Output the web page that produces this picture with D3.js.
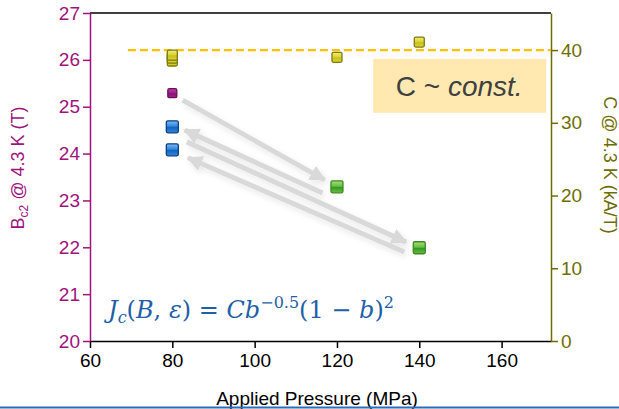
<!DOCTYPE html>
<html>
<head>
<meta charset="utf-8">
<script src="https://cdn.jsdelivr.net/npm/d3@7"></script>
<style>
  body { margin: 0; background: white; }
  svg { display: block; font-family: "Liberation Sans", Arial, sans-serif; }
</style>
</head>
<body>
<div id="chart"></div>
<script>
// data
const xTicks = [60, 80, 100, 120, 140, 160];
const leftTicks = [20, 21, 22, 23, 24, 25, 26, 27];
const rightTicks = [0, 10, 20, 30, 40];

// Bc2 (left axis)
const bc2Magenta = [{ p: 80, v: 25.29 }];
const bc2Blue = [{ p: 80, v: 24.57 }, { p: 80, v: 24.08 }];
const bc2Green = [{ p: 120, v: 23.29 }, { p: 140, v: 21.99 }];
// C (right axis)
const cYellow = [
  { p: 80, v: 38.5 }, { p: 80, v: 38.9 }, { p: 80, v: 39.3 },
  { p: 120, v: 39.0 }, { p: 140, v: 41.1 }
];
const cConst = 40;
// arrows, in data units (pressure, Bc2)
const arrows = [
  [[82.5, 25.14], [117.0, 23.44]],
  [[83.5, 24.25], [136.8, 22.11]],
  [[116.5, 23.16], [83.0, 24.50]],
  [[136.4, 21.90], [83.8, 23.91]]
];

const magenta = "#a0137e";
const olive = "#6e6e00";
const width = 619, height = 409;
const margin = { top: 13, right: 68, bottom: 68, left: 90 };

const svg = d3.select("#chart").append("svg")
  .attr("width", width).attr("height", height);

const defs = svg.append("defs");
function gloss(id, light, mid, dark) {
  const g = defs.append("linearGradient").attr("id", id)
    .attr("x1", 0).attr("y1", 0).attr("x2", 0).attr("y2", 1);
  g.append("stop").attr("offset", "0%").attr("stop-color", light);
  g.append("stop").attr("offset", "45%").attr("stop-color", mid);
  g.append("stop").attr("offset", "55%").attr("stop-color", dark);
  g.append("stop").attr("offset", "100%").attr("stop-color", mid);
}
gloss("gBlue", "#7fbdf5", "#2f86dc", "#1565c0");
gloss("gGreen", "#a8dc80", "#6cbf3c", "#2f9a2a");
gloss("gYellow", "#f0ec80", "#dcd530", "#c8c020");
gloss("gMag", "#c040a8", "#a0208a", "#8a1478");

const shadow = defs.append("filter").attr("id", "soft")
  .attr("filterUnits", "userSpaceOnUse")
  .attr("x", 0).attr("y", 0).attr("width", width).attr("height", height);
shadow.append("feGaussianBlur").attr("in", "SourceAlpha").attr("stdDeviation", 3).attr("result", "b");
shadow.append("feOffset").attr("in", "b").attr("dx", 2).attr("dy", 3).attr("result", "o");
shadow.append("feComponentTransfer").attr("in", "o").attr("result", "s")
  .append("feFuncA").attr("type", "linear").attr("slope", 0.1);
const fm = shadow.append("feMerge");
fm.append("feMergeNode").attr("in", "s");
fm.append("feMergeNode").attr("in", "SourceGraphic");

defs.append("marker").attr("id", "head")
  .attr("viewBox", "0 0 10 10").attr("refX", 9).attr("refY", 5)
  .attr("markerWidth", 3.2).attr("markerHeight", 3.2).attr("orient", "auto")
  .append("path").attr("d", "M0,0L10,5L0,10Z").attr("fill", "#d9d9d9");

const x = d3.scaleLinear().domain([60, 172]).range([margin.left, width - margin.right]);
const yL = d3.scaleLinear().domain([20, 27]).range([height - margin.bottom, margin.top]);
const yR = d3.scaleLinear().domain([0, 45.1]).range([height - margin.bottom, margin.top]);

// frame top
svg.append("line").attr("x1", x(60)).attr("x2", x(172)).attr("y1", yL(27)).attr("y2", yL(27))
  .attr("stroke", "black").attr("stroke-width", 1.5);

function styleAxis(g, color) {
  g.attr("font-family", "Liberation Sans").attr("font-size", 19);
  g.select(".domain").attr("stroke", color).attr("stroke-width", 1.5);
  g.selectAll(".tick line").attr("stroke", color).attr("stroke-width", 1.5);
  g.selectAll(".tick text").attr("fill", color);
}

// x axis
const gx = svg.append("g").attr("transform", `translate(0,${height - margin.bottom})`)
  .call(d3.axisBottom(x).tickValues(xTicks).tickSize(7).tickSizeOuter(0).tickPadding(6));
styleAxis(gx, "black");

// left axis
const gl = svg.append("g").attr("transform", `translate(${margin.left},0)`)
  .call(d3.axisLeft(yL).tickValues(leftTicks).tickFormat(d3.format("d"))
    .tickSize(7).tickSizeOuter(0).tickPadding(3));
styleAxis(gl, magenta);

// right axis
const gr = svg.append("g").attr("transform", `translate(${width - margin.right},0)`)
  .call(d3.axisRight(yR).tickValues(rightTicks).tickSize(7).tickSizeOuter(0).tickPadding(3));
styleAxis(gr, olive);

// axis titles
const lt = svg.append("text").attr("transform", "translate(24,168) rotate(-90)")
  .attr("text-anchor", "middle").attr("fill", magenta).attr("font-size", 18);
lt.append("tspan").text("B");
lt.append("tspan").attr("font-size", 12).attr("dy", 4).text("c2");
lt.append("tspan").attr("dy", -4).text(" @ 4.3 K (T)");

svg.append("text").attr("transform", "translate(604,165) rotate(90)")
  .attr("text-anchor", "middle").attr("fill", olive).attr("font-size", 18)
  .text("C @ 4.3 K (kA/T)");

svg.append("text").attr("x", 317).attr("y", 405).attr("text-anchor", "middle")
  .attr("fill", "black").attr("font-size", 19).text("Applied Pressure (MPa)");

// bottom rule
svg.append("line").attr("x1", 0).attr("x2", width).attr("y1", 407.5).attr("y2", 407.5)
  .attr("stroke", "#2e6db4").attr("stroke-width", 2);

// C ~ const box
svg.append("rect").attr("x", x(128.8)).attr("y", yR(38.8)).attr("width", 173).attr("height", 54)
  .attr("fill", "#ffe9b0");
const bt = svg.append("text").attr("x", x(128.8) + 86).attr("y", yR(38.8) + 37)
  .attr("text-anchor", "middle").attr("fill", "#404040").attr("font-size", 28)
  .attr("font-family", "Liberation Sans");
bt.append("tspan").text("C ~ ");
bt.append("tspan").attr("font-style", "italic").text("const.");

// arrows
svg.append("g").attr("filter", "url(#soft)")
  .selectAll("line").data(arrows).join("line")
  .attr("x1", d => x(d[0][0])).attr("y1", d => yL(d[0][1]))
  .attr("x2", d => x(d[1][0])).attr("y2", d => yL(d[1][1]))
  .attr("stroke", "#d9d9d9").attr("stroke-width", 5)
  .attr("marker-end", "url(#head)");

// dashed constant line
svg.append("line").attr("x1", x(69.2)).attr("x2", x(172)).attr("y1", yR(cConst)).attr("y2", yR(cConst))
  .attr("stroke", "#ffc000").attr("stroke-width", 2.2).attr("stroke-dasharray", "8,4")
  .attr("filter", "url(#soft)");

function squares(data, yScale, fill, stroke, size) {
  svg.append("g").selectAll("rect").data(data).join("rect")
    .attr("x", d => x(d.p) - size / 2).attr("y", d => yScale(d.v) - size / 2)
    .attr("width", size).attr("height", size).attr("rx", 1.5)
    .attr("fill", fill).attr("stroke", stroke).attr("stroke-width", 1.3);
}
squares(cYellow, yR, "url(#gYellow)", "#7d7a10", 10);
squares(bc2Magenta, yL, "url(#gMag)", "#6a0d5a", 9);
squares(bc2Blue, yL, "url(#gBlue)", "#0d3f80", 12);
squares(bc2Green, yL, "url(#gGreen)", "#3d8a1f", 12);

// formula
const f = svg.append("text").attr("x", 108).attr("y", 318).attr("fill", "#1f5fa8")
  .attr("font-size", 24).attr("font-family", "DejaVu Serif, Liberation Serif, serif");
f.append("tspan").attr("font-style", "italic").text("J");
f.append("tspan").attr("font-style", "italic").attr("font-size", 16).attr("dy", 5).text("c");
f.append("tspan").attr("dy", -5).text("(");
f.append("tspan").attr("font-style", "italic").text("B");
f.append("tspan").text(", ");
f.append("tspan").attr("font-style", "italic").text("ε");
f.append("tspan").text(") = ");
f.append("tspan").attr("font-style", "italic").text("Cb");
f.append("tspan").attr("font-size", 16).attr("dy", -10).text("−0.5");
f.append("tspan").attr("dy", 10).text("(1 − ");
f.append("tspan").attr("font-style", "italic").text("b");
f.append("tspan").text(")");
f.append("tspan").attr("font-size", 16).attr("dy", -10).text("2");
</script>
</body>
</html>
